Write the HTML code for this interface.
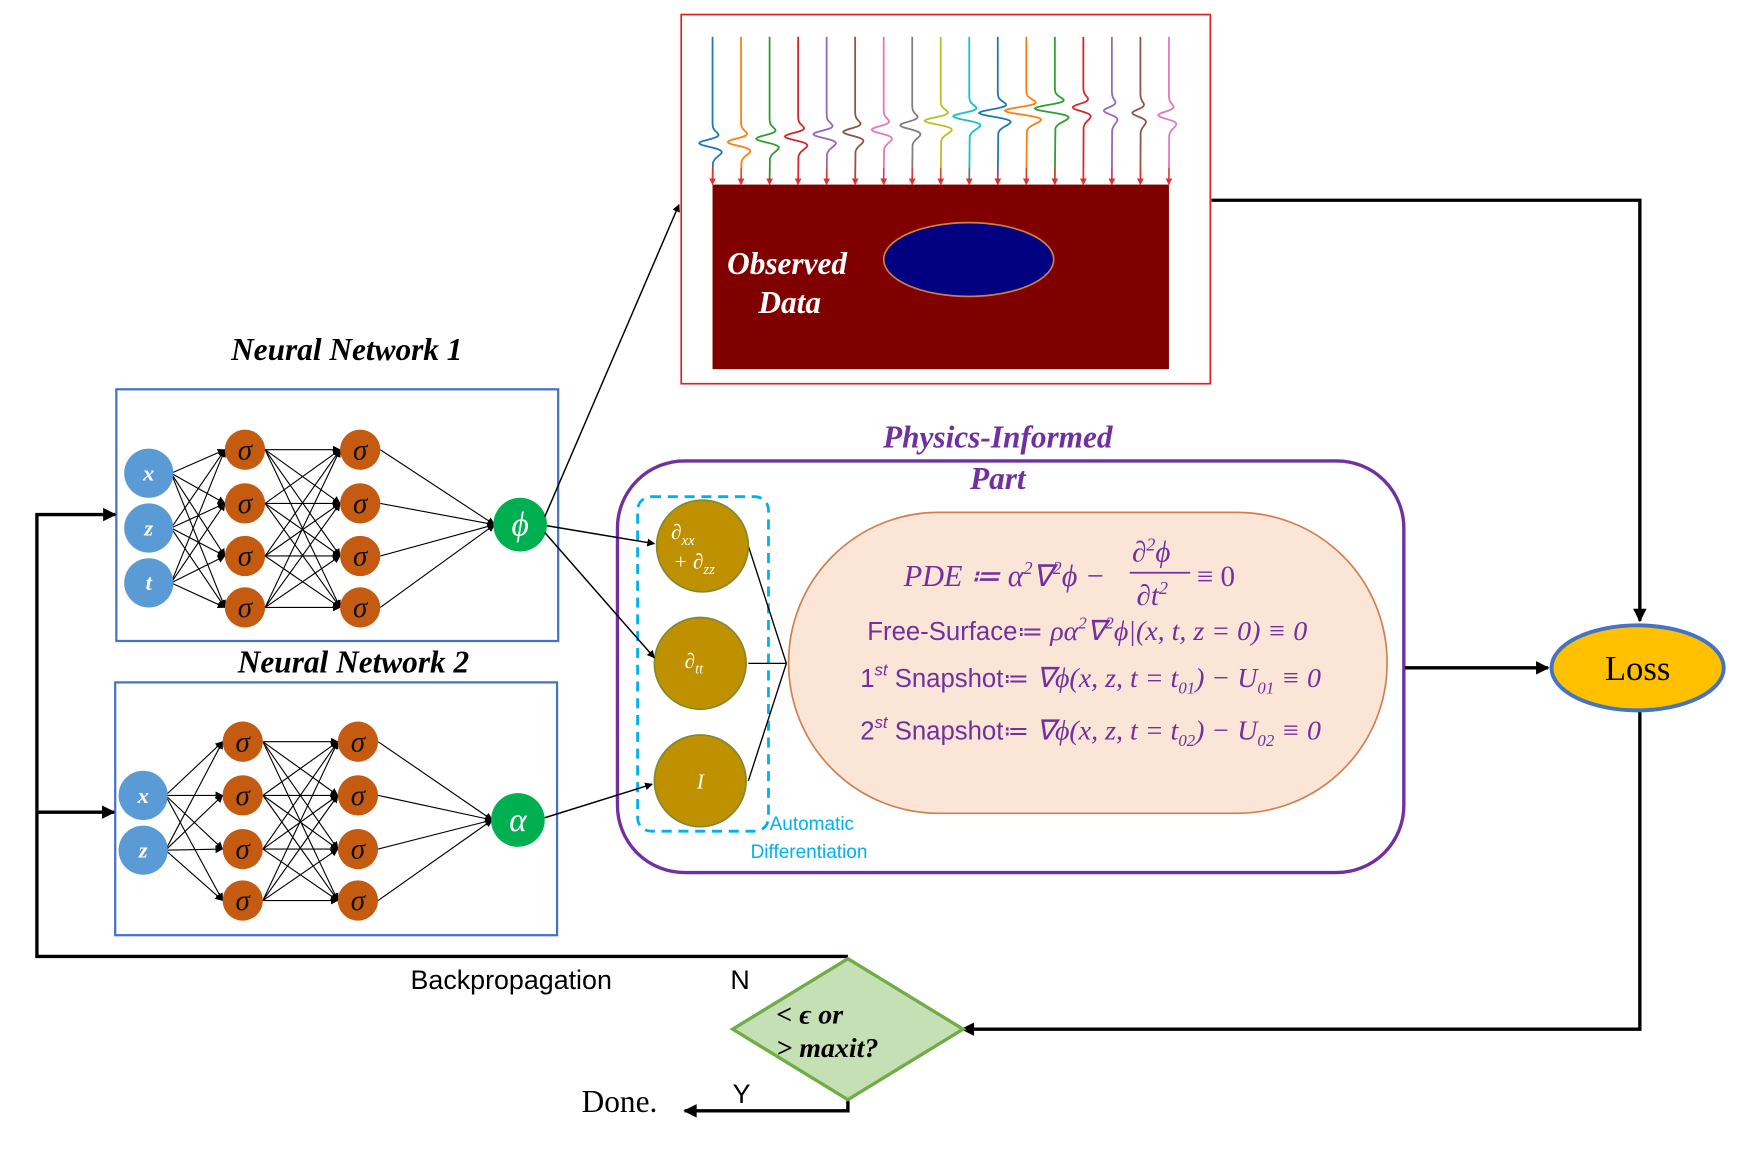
<!DOCTYPE html>
<html><head><meta charset="utf-8">
<style>
html,body{margin:0;padding:0;background:#fff;}
svg{display:block;}
.ser{font-family:"Liberation Serif",serif;}
.san{font-family:"Liberation Sans",sans-serif;}
</style></head>
<body>
<svg id="fig" width="1745" height="1150" viewBox="0 0 1560 1028" preserveAspectRatio="none" xmlns="http://www.w3.org/2000/svg">
<defs>
<marker id="ah" viewBox="0 0 10 10" refX="9" refY="5" markerWidth="7" markerHeight="7" orient="auto" markerUnits="userSpaceOnUse"><path d="M0,0 L10,5 L0,10 z" fill="#000"/></marker>
<marker id="ahb" viewBox="0 0 10 10" refX="9" refY="5" markerWidth="14" markerHeight="12" orient="auto" markerUnits="userSpaceOnUse"><path d="M0,0 L10,5 L0,10 z" fill="#000"/></marker>
<marker id="ahr" viewBox="0 0 10 10" refX="9" refY="5" markerWidth="6" markerHeight="6" orient="auto" markerUnits="userSpaceOnUse"><path d="M0,0 L10,5 L0,10 z" fill="#e03030"/></marker>
</defs>

<g>
<rect x="609" y="13" width="473" height="330" fill="#fff" stroke="#e02020" stroke-width="1.5"/>
<rect x="637" y="165" width="408" height="165" fill="#800000"/>
<ellipse cx="866" cy="232" rx="76" ry="33" fill="#000080" stroke="#d08040" stroke-width="1.5"/>
<text x="650" y="245" class="ser" font-size="28" font-weight="bold" font-style="italic" fill="#fff">Observed</text>
<text x="678" y="280" class="ser" font-size="28" font-weight="bold" font-style="italic" fill="#fff">Data</text>
<g id="traces"></g>
</g>

<text x="310" y="322" text-anchor="middle" class="ser" font-size="28" font-weight="bold" font-style="italic">Neural Network 1</text>
<text x="316" y="601" text-anchor="middle" class="ser" font-size="28" font-weight="bold" font-style="italic">Neural Network 2</text>
<rect x="104" y="348" width="395" height="225" fill="none" stroke="#4472C4" stroke-width="2"/>
<rect x="103" y="610" width="395" height="226" fill="none" stroke="#4472C4" stroke-width="2"/>
<g id="nets"></g>

<text x="892" y="400" text-anchor="middle" class="ser" font-size="28" font-weight="bold" font-style="italic" fill="#7030A0">Physics-Informed</text>
<text x="892" y="437" text-anchor="middle" class="ser" font-size="28" font-weight="bold" font-style="italic" fill="#7030A0">Part</text>
<rect x="552" y="412" width="703" height="368" rx="60" fill="none" stroke="#7030A0" stroke-width="3"/>
<rect x="570" y="444" width="117" height="299" rx="12" fill="none" stroke="#00B0F0" stroke-width="2.5" stroke-dasharray="9,6"/>
<g stroke="#000" stroke-width="1.2">
<line x1="669" y1="488" x2="703" y2="593"/>
<line x1="669" y1="593" x2="703" y2="593"/>
<line x1="669" y1="698" x2="703" y2="593"/>
</g>
<g>
<circle cx="628" cy="488" r="41" fill="#BF9000" stroke="#7f8a30" stroke-width="1.5"/>
<text x="600" y="482" class="ser" font-size="19" font-style="italic" fill="#fff">∂<tspan font-size="13" dy="5">xx</tspan></text>
<text x="602" y="508" class="ser" font-size="19" font-style="italic" fill="#fff">+ ∂<tspan font-size="13" dy="5">zz</tspan></text>
<circle cx="626" cy="593" r="41" fill="#BF9000" stroke="#7f8a30" stroke-width="1.5"/>
<text x="612" y="597" class="ser" font-size="19" font-style="italic" fill="#fff">∂<tspan font-size="13" dy="5">tt</tspan></text>
<circle cx="626" cy="698" r="41" fill="#BF9000" stroke="#7f8a30" stroke-width="1.5"/>
<text x="623" y="705" class="ser" font-size="19" font-style="italic" fill="#fff">I</text>
</g>
<text x="688" y="742" class="san" font-size="17" fill="#00B0F0">Automatic</text>
<text x="671" y="767" class="san" font-size="17" fill="#00B0F0">Differentiation</text>

<rect x="705" y="458" width="535" height="269" rx="134" fill="#FBE5D6" stroke="#D08050" stroke-width="1.5"/>
<g fill="#7030A0" font-size="24">
<text x="808" y="524" class="ser" font-style="italic" font-size="27">PDE ≔ α<tspan font-size="16" dy="-11">2</tspan><tspan dy="11">∇</tspan><tspan font-size="16" dy="-11">2</tspan><tspan dy="11">ϕ −</tspan></text>
<text x="1012" y="502" class="ser" font-style="italic" font-size="26">∂<tspan font-size="16" dy="-10">2</tspan><tspan dy="10">ϕ</tspan></text>
<line x1="1010" y1="512" x2="1064" y2="512" stroke="#7030A0" stroke-width="1.5"/>
<text x="1016" y="541" class="ser" font-style="italic" font-size="26">∂t<tspan font-size="16" dy="-10">2</tspan></text>
<text x="1070" y="524" class="ser" font-size="26">≡ 0</text>
<text x="972" y="572" text-anchor="middle" class="san" font-size="23">Free-Surface≔ <tspan class="ser" font-style="italic" font-size="25">ρα<tspan font-size="15" dy="-10">2</tspan><tspan dy="10">∇</tspan><tspan font-size="15" dy="-10">2</tspan><tspan dy="10">ϕ|(x, t, z = 0) ≡ 0</tspan></tspan></text>
<text x="975" y="614" text-anchor="middle" class="san" font-size="23">1<tspan font-size="15" dy="-10" font-style="italic">st</tspan><tspan dy="10"> Snapshot≔ </tspan><tspan class="ser" font-style="italic" font-size="25">∇ϕ(x, z, t = t<tspan font-size="15" dy="6">01</tspan><tspan dy="-6">) − U</tspan><tspan font-size="15" dy="6">01</tspan><tspan dy="-6"> ≡ 0</tspan></tspan></text>
<text x="975" y="661" text-anchor="middle" class="san" font-size="23">2<tspan font-size="15" dy="-10" font-style="italic">st</tspan><tspan dy="10"> Snapshot≔ </tspan><tspan class="ser" font-style="italic" font-size="25">∇ϕ(x, z, t = t<tspan font-size="15" dy="6">02</tspan><tspan dy="-6">) − U</tspan><tspan font-size="15" dy="6">02</tspan><tspan dy="-6"> ≡ 0</tspan></tspan></text>
</g>

<g stroke="#000" stroke-width="1.3" fill="none">
<line x1="487" y1="462" x2="607" y2="183" marker-end="url(#ah)"/>
<line x1="489" y1="470" x2="585" y2="486" marker-end="url(#ah)"/>
<line x1="487" y1="476" x2="585" y2="588" marker-end="url(#ah)"/>
<line x1="487" y1="731" x2="583" y2="701" marker-end="url(#ah)"/>
</g>
<g stroke="#000" stroke-width="3" fill="none">
<polyline points="1083,179 1466,179 1466,555" marker-end="url(#ahb)"/>
<line x1="1256" y1="597" x2="1384" y2="597" marker-end="url(#ahb)"/>
<polyline points="1466,636 1466,920 860,920" marker-end="url(#ahb)"/>
<polyline points="758,855 33,855 33,460 103,460" marker-end="url(#ahb)"/>
<line x1="33" y1="726" x2="102" y2="726" marker-end="url(#ahb)"/>
<polyline points="758,983 758,993 612,993" marker-end="url(#ahb)"/>
</g>

<ellipse cx="1464" cy="597" rx="77" ry="38" fill="#FFC000" stroke="#4472C4" stroke-width="3.5"/>
<text x="1464" y="608" text-anchor="middle" class="ser" font-size="31">Loss</text>

<polygon points="758,857 861,920 758,983 655,920" fill="#C5E0B4" stroke="#70AD47" stroke-width="3"/>
<text x="694" y="915" class="ser" font-size="25" font-weight="bold" font-style="italic">&lt; ϵ or</text>
<text x="694" y="945" class="ser" font-size="25" font-weight="bold" font-style="italic">&gt; maxit?</text>
<text x="367" y="884" class="san" font-size="24">Backpropagation</text>
<text x="653" y="884" class="san" font-size="24">N</text>
<text x="655" y="986" class="san" font-size="24">Y</text>
<text x="520" y="994" class="ser" font-size="28">Done.</text>
</svg>
<script>
// trace data: arrival time (vertical position) of wavelet on each receiver
const traceArrivals = [128,127,124,122,120,118,116,112,108,104,101,99,97,96,99,101,103];
const traceAmps = [1,1,1,1,1,0.9,0.9,0.9,1.2,1.2,1.4,1.6,1.5,0.8,0.6,0.6,0.8];
const traceColors = ["#1f77b4","#ff7f0e","#2ca02c","#d62728","#9467bd","#8c564b","#e377c2","#7f7f7f","#bcbd22","#17becf"];
const NS="http://www.w3.org/2000/svg";
const tg=document.getElementById('traces');
const x0=637, dx=(1045-637)/16;
traceArrivals.forEach((a,i)=>{
  const x=x0+i*dx, A=12*traceAmps[i];
  let d=`M${x},33 L${x},${a-18}`;
  for(let y=a-18;y<=a+18;y+=1){
    const t=(y-a)/6;
    const u=(y-a-10)/5;
    const w=(1-2*t*t)*Math.exp(-t*t)-0.3*Math.exp(-(u*u));
    d+=` L${(x - A*w).toFixed(1)},${y}`;
  }
  d+=` L${x},162`;
  const p=document.createElementNS(NS,'path');
  p.setAttribute('d',d);p.setAttribute('fill','none');
  p.setAttribute('stroke',traceColors[i%10]);p.setAttribute('stroke-width','1.6');
  
  
  tg.appendChild(p);
  const ar=document.createElementNS(NS,'line');
  ar.setAttribute('x1',x);ar.setAttribute('y1',150);ar.setAttribute('x2',x);ar.setAttribute('y2',165);
  ar.setAttribute('stroke','#e03030');ar.setAttribute('marker-end','url(#ahr)');
  
  
  tg.appendChild(ar);
});
const ng=document.getElementById('nets');
function edge(x1,y1,x2,y2,arrow){
  const l=document.createElementNS(NS,'line');
  l.setAttribute('x1',x1);l.setAttribute('y1',y1);l.setAttribute('x2',x2);l.setAttribute('y2',y2);
  l.setAttribute('stroke','#000');l.setAttribute('stroke-width','1');
  if(arrow)l.setAttribute('marker-end','url(#ah)');
  ng.appendChild(l);
}
function node(cx,cy,r,fill,label,size,name){
  const c=document.createElementNS(NS,'circle');
  c.setAttribute('cx',cx);c.setAttribute('cy',cy);c.setAttribute('r',r);c.setAttribute('fill',fill);
  
  
  ng.appendChild(c);
  const t=document.createElementNS(NS,'text');
  t.setAttribute('x',cx);t.setAttribute('y',cy+size*0.33);t.setAttribute('text-anchor','middle');
  t.setAttribute('font-family','"Liberation Serif",serif');t.setAttribute('font-style','italic');
  t.setAttribute('font-size',size);t.setAttribute('fill',fill==='#C55A11'?'#111':'#fff');
  if(fill==='#5B9BD5')t.setAttribute('font-weight','bold');
  t.textContent=label;ng.appendChild(t);
}
function net(inX,inYs,inLabels,h1x,h2x,hYs,outX,outY,outLabel){
  inYs.forEach(y=>hYs.forEach(h=>edge(inX+20,y,h1x-18,h,true)));
  hYs.forEach(y=>hYs.forEach(h=>edge(h1x+18,y,h2x-18,h,true)));
  hYs.forEach(y=>edge(h2x+18,y,outX-23,outY,true));
  inYs.forEach((y,i)=>node(inX,y,22,'#5B9BD5',inLabels[i],20,'input-node'));
  hYs.forEach(y=>{node(h1x,y,18,'#C55A11','σ',26,'hidden-node');node(h2x,y,18,'#C55A11','σ',26,'hidden-node');});
  node(outX,outY,24,'#00B050',outLabel,30,'output-node');
}
net(133,[423,472,521],['x','z','t'],219,322,[402,450,497,543],465,469,'ϕ');
net(128,[711,760],['x','z'],217,320,[663,711,759,805],463,733,'α');
</script>
</body></html>
